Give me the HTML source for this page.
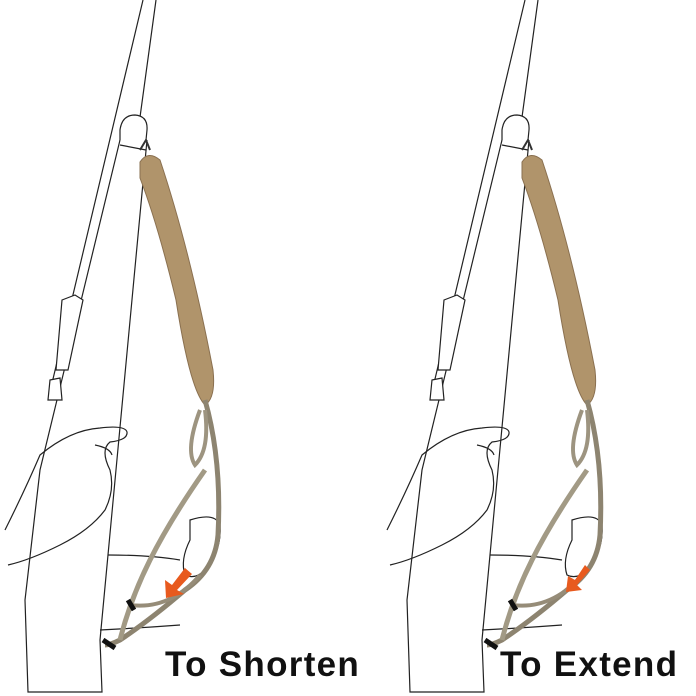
<!DOCTYPE html><html><head><style>body{margin:0;background:#fff}svg{display:block}</style></head><body>
<svg width="696" height="696" viewBox="0 0 696 696" xmlns="http://www.w3.org/2000/svg">
<defs>
<g id="fig" fill="none" stroke="#222" stroke-width="1.2">
<path d="M143 0 L48 400 M156 0 L100 410"/>
<path d="M120 130 Q122 115 135 115 Q148 116 147 130 L145 150 L120 145 Z" fill="#fff"/>
<path d="M147 140 L100 640 L102 692 L28 692 L25 600 L40 470 L120 140" fill="#fff"/>
<path d="M120 145 L146 150"/>
<path d="M62 300 L75 295 L83 300 L68 370 L56 370 Z M50 380 L60 378 L62 400 L48 400 Z" fill="#fff"/>
<path d="M5 530 Q25 490 40 455 Q70 430 100 428 Q125 425 127 432 Q128 440 110 442 Q100 450 110 470 Q115 490 105 510 Q90 530 60 545 Q30 560 8 565"/>
<path d="M95 445 Q110 448 112 455"/>
<path d="M108 555 Q150 555 180 560 M100 630 Q140 628 180 625"/>
<path d="M190 520 Q215 512 220 525 Q222 550 205 570 Q195 580 185 575 Q180 560 190 540 Z" fill="#fff"/>
<path d="M140 162 Q148 150 160 160 Q190 250 213 370 Q216 398 205 405 Q190 390 176 300 Q158 225 140 178 Z" fill="#b0946b" stroke="#8a7050" stroke-width="1"/>
<path d="M140 150 l6 -10 l4 10" stroke="#333" stroke-width="2"/>
<path d="M205 400 Q222 460 218 535 Q215 570 185 590 Q150 620 120 640 Q110 645 105 645" stroke="#8d8470" stroke-width="5"/>
<path d="M200 410 Q185 450 195 465 Q210 450 205 410" stroke="#9d9480" stroke-width="4"/>
<path d="M205 470 Q170 520 150 560 Q130 600 120 640" stroke="#a29a85" stroke-width="5"/>
<path d="M130 605 Q170 610 200 575" stroke="#968c78" stroke-width="4"/>
<path d="M103 640 l12 8 M128 600 l6 10" stroke="#111" stroke-width="5"/>
</g>
</defs>
<use href="#fig"/>
<use href="#fig" transform="translate(382,0)"/>
<path d="M185 568 L172 585 L165 580 L166 598 L184 594 L177 590 L192 574 Z" fill="#e85a1e"/>
<path d="M585 565 L575 580 L568 576 L566 592 L582 590 L577 585 L590 570 Z" fill="#e85a1e"/>
<text x="165" y="676" font-family="Liberation Sans, sans-serif" font-weight="bold" font-size="35" letter-spacing="1.3" fill="#111">To Shorten</text>
<text x="500" y="676" font-family="Liberation Sans, sans-serif" font-weight="bold" font-size="35" letter-spacing="1.3" fill="#111">To Extend</text>
</svg>
</body></html>
